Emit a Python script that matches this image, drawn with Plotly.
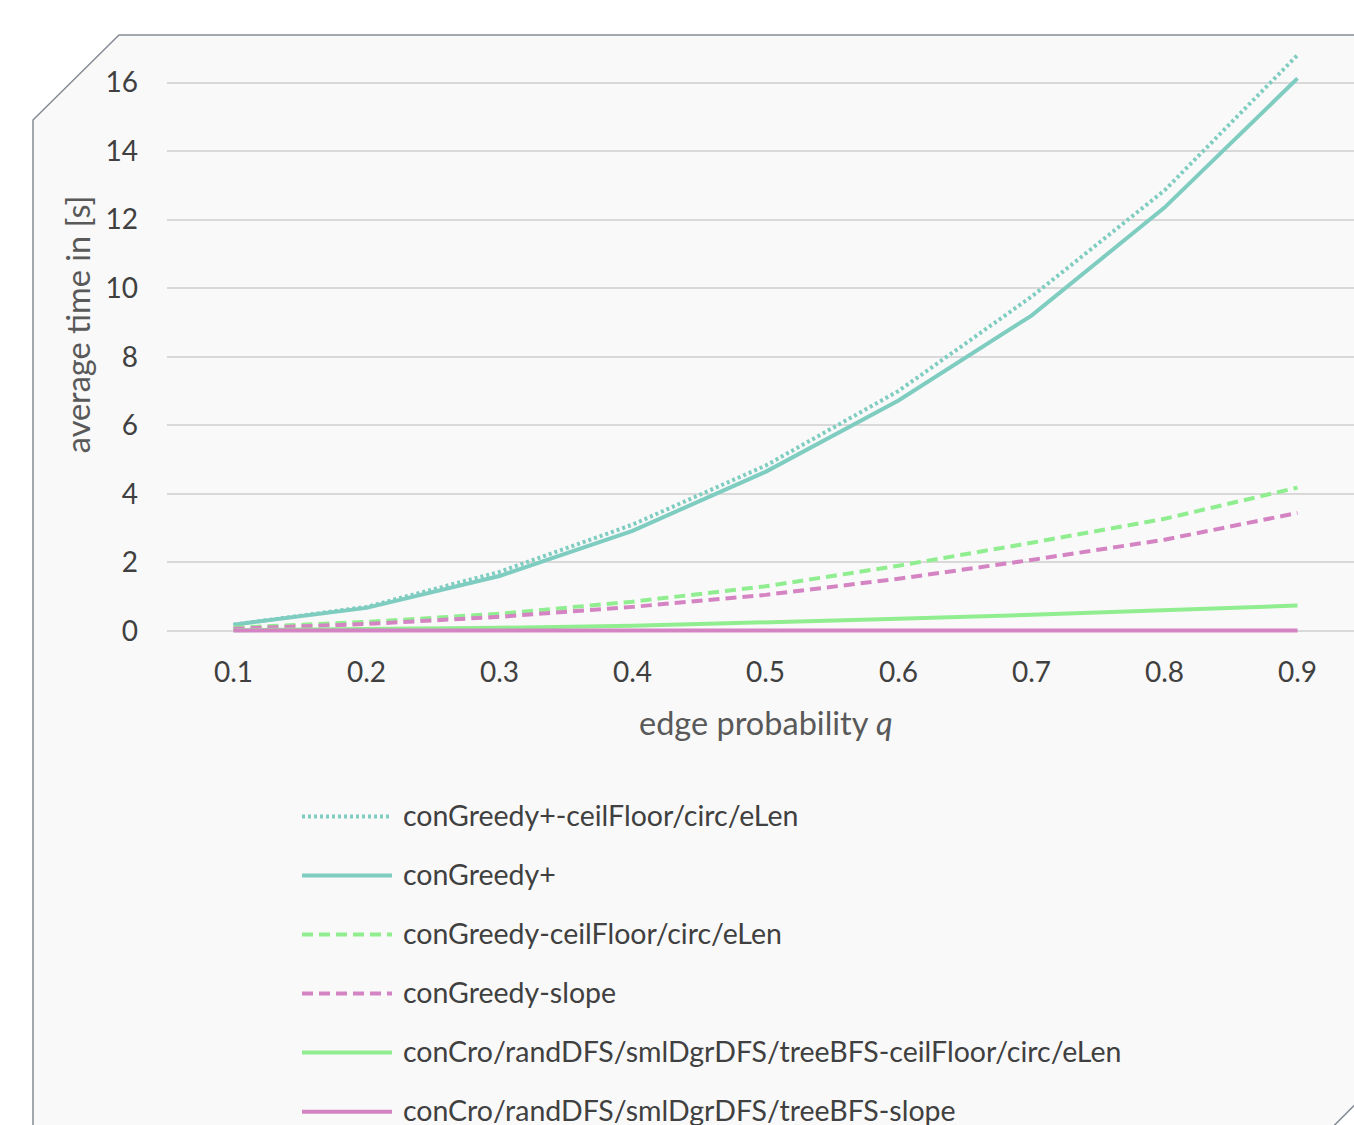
import plotly.graph_objects as go

# ---------------- data ----------------
q_values = [0.1, 0.2, 0.3, 0.4, 0.5, 0.6, 0.7, 0.8, 0.9]
q_labels = ["0.1", "0.2", "0.3", "0.4", "0.5", "0.6", "0.7", "0.8", "0.9"]

series_names = [
    "conGreedy+-ceilFloor/circ/eLen",
    "conGreedy+",
    "conGreedy-ceilFloor/circ/eLen",
    "conGreedy-slope",
    "conCro/randDFS/smlDgrDFS/treeBFS-ceilFloor/circ/eLen",
    "conCro/randDFS/smlDgrDFS/treeBFS-slope",
]
congreedy_plus_cf = [0.18, 0.70, 1.72, 3.10, 4.82, 7.00, 9.75, 12.85, 16.80]
congreedy_plus = [0.18, 0.67, 1.60, 2.92, 4.64, 6.72, 9.20, 12.35, 16.12]
congreedy_cf = [0.09, 0.26, 0.50, 0.85, 1.30, 1.90, 2.57, 3.27, 4.18]
congreedy_slope = [0.06, 0.20, 0.41, 0.70, 1.05, 1.52, 2.07, 2.66, 3.44]
concro_cf = [0.02, 0.05, 0.09, 0.15, 0.24, 0.35, 0.47, 0.60, 0.74]
concro_slope = [0.01, 0.01, 0.01, 0.01, 0.01, 0.01, 0.01, 0.01, 0.01]
series_values = [congreedy_plus_cf, congreedy_plus, congreedy_cf,
                 congreedy_slope, concro_cf, concro_slope]
y_ticks = [0, 2, 4, 6, 8, 10, 12, 14, 16]

# ---------------- styles ----------------
TEAL = "#7fcdc0"
GREEN = "#90ee90"
PINK = "#d584c3"
series_colors = [TEAL, TEAL, GREEN, PINK, GREEN, PINK]
series_dash = ["3px,3px", "solid", "11px,6px", "11px,6px", "solid", "solid"]
FONT = "Lato"
TXT = "#404040"
TITLE_TXT = "#595959"

# ---------------- geometry (page px, body margin removed) ----------------
W_FIG, H_FIG = 1354, 1125
PX_PER_Q = 1330.0           # pixels per unit of q
PX_PER_S = 34.25            # pixels per second
X0_PAGE, Y0_PAGE = 167, 630.5   # page position of q=0.05 / t=0
Y_MIN = -0.15
L, R = X0_PAGE, W_FIG
T, B = 35, Y0_PAGE - Y_MIN * PX_PER_S
X_RANGE = [0.05, 0.05 + (R - L) / PX_PER_Q]
Y_RANGE = [Y_MIN, Y_MIN + (B - T) / PX_PER_S]


def px(xp):
    return (xp - L) / (R - L)


def py(yp):
    return (B - yp) / (B - T)


fig = go.Figure()

for name, vals, col, dash in zip(series_names, series_values, series_colors, series_dash):
    fig.add_trace(go.Scatter(
        x=q_values, y=vals, mode="lines", name=name, showlegend=False,
        line=dict(color=col, width=4, dash=dash),
    ))

shapes = []
# chart background panel with cut corners
poly = [(33, 120), (119, 35), (1400, 35), (1400, 1059), (1300, 1159), (33, 1159)]
path = "M " + " L ".join(f"{px(a):.5f},{py(b):.5f}" for a, b in poly) + " Z"
shapes.append(dict(type="path", xref="paper", yref="paper", path=path,
                   fillcolor="#f9f9f9", line=dict(color="#858c95", width=1.5),
                   layer="below"))

annotations = []
# legend drawn beneath the chart
for i, (name, col, dash) in enumerate(zip(series_names, series_colors, series_dash)):
    yrow = 816 + 59 * i
    shapes.append(dict(type="line", xref="paper", yref="paper",
                       x0=px(302), x1=px(392), y0=py(yrow), y1=py(yrow),
                       line=dict(color=col, width=4, dash=dash)))
    annotations.append(dict(text=name, xref="paper", yref="paper",
                            x=px(401), y=py(yrow - 1.5), xanchor="left", yanchor="middle",
                            showarrow=False, font=dict(family=FONT, size=28.5, color=TXT)))

# axis titles
annotations.append(dict(text="edge probability <i>q</i>", xref="paper", yref="paper",
                        x=px(766), y=py(722), xanchor="center", yanchor="middle",
                        showarrow=False, font=dict(family=FONT, size=32.5, color=TITLE_TXT)))
annotations.append(dict(text="average time in [s]", xref="paper", yref="paper",
                        x=px(77), y=py(324), xanchor="center", yanchor="middle",
                        textangle=-90, showarrow=False,
                        font=dict(family=FONT, size=32.5, color=TITLE_TXT)))

fig.update_layout(
    width=W_FIG, height=H_FIG,
    margin=dict(l=L, r=W_FIG - R, t=T, b=H_FIG - B, pad=0),
    paper_bgcolor="white", plot_bgcolor="rgba(0,0,0,0)",
    showlegend=False,
    shapes=shapes, annotations=annotations,
    font=dict(family=FONT, color=TXT),
)
fig.update_xaxes(
    range=X_RANGE, tickvals=q_values, ticktext=q_labels,
    showgrid=False, zeroline=False, showline=False, ticks="",
    tickfont=dict(family=FONT, size=28, color=TXT), ticklabelstandoff=17,
)
fig.update_yaxes(
    range=Y_RANGE, tickvals=y_ticks, ticktext=[str(v) for v in y_ticks],
    showgrid=True, gridcolor="#d9d9d9", gridwidth=2, zeroline=False,
    showline=False, ticks="",
    tickfont=dict(family=FONT, size=28, color=TXT), ticklabelstandoff=28,
)

fig.write_html("out.html", config={"displayModeBar": False},
               post_script="document.body.style.margin='0';")
